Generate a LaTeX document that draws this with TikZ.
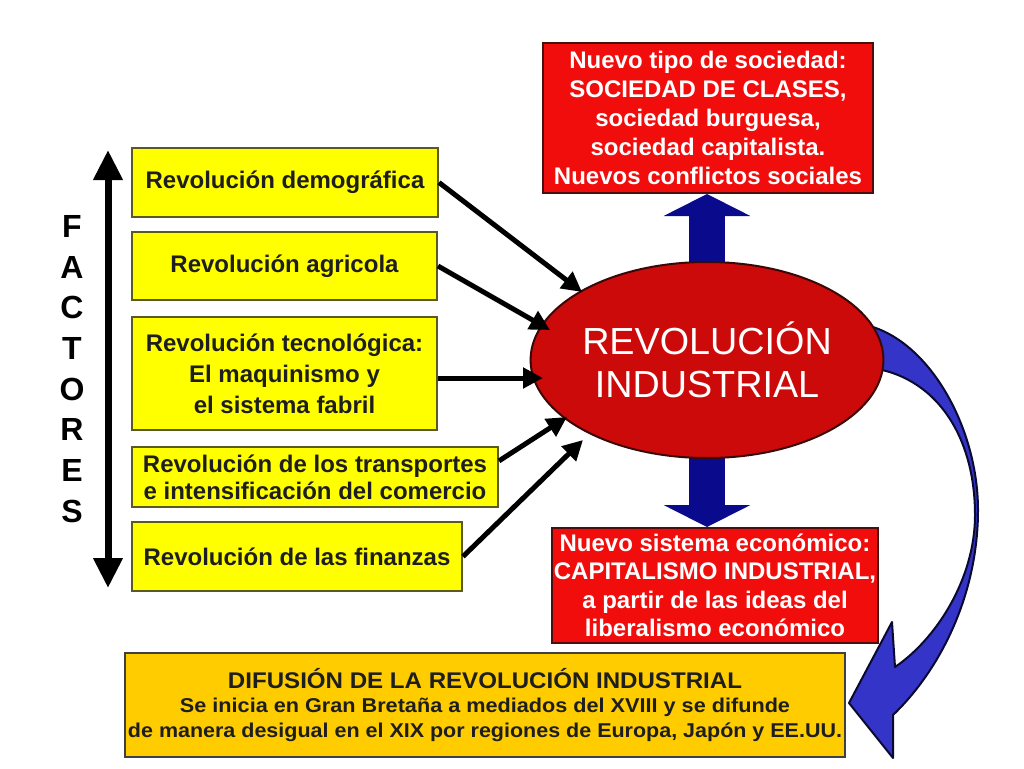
\documentclass[tikz,border=0pt]{standalone}
\usepackage{graphicx}
\usepackage{fontspec}
\setmainfont{Liberation Sans}
\usetikzlibrary{arrows.meta,shapes.geometric}
\newlength\pxu \setlength\pxu{0.75pt}
\definecolor{ylw}{HTML}{FFFF00}
\definecolor{ybord}{HTML}{5A5A20}
\definecolor{rboxc}{HTML}{F20D0D}
\definecolor{rbord}{HTML}{4A1010}
\definecolor{ellc}{HTML}{CC0A0A}
\definecolor{ellbord}{HTML}{3A0808}
\definecolor{orng}{HTML}{FFCC00}
\definecolor{obord}{HTML}{404040}
\definecolor{navyc}{HTML}{0A0A8C}
\definecolor{curvc}{HTML}{3434C8}
\definecolor{curvb}{HTML}{0A0A30}
\definecolor{txtdark}{HTML}{1E1E1E}
\pgfdeclarelayer{bg}
\pgfsetlayers{bg,main}
\begin{document}
\begin{tikzpicture}[x=0.75pt,y=-0.75pt,
  ybox/.style={draw=ybord, fill=ylw, line width=1.5pt, inner sep=0pt, align=center,
    text=txtdark, font=\bfseries\fontsize{18}{23.25}\selectfont},
  rbox/.style={draw=rbord, fill=rboxc, line width=1.5pt, inner sep=0pt, align=center,
    text=white, font=\bfseries\fontsize{18}{21.75}\selectfont},
  obox/.style={draw=obord, fill=orng, line width=1.5pt, inner sep=0pt, align=center,
    text=txtdark, font=\bfseries\fontsize{15}{18.5}\selectfont},
  feeds/.style={line width=3.75pt, -{Triangle[length=15pt,width=15pt]}},
  bigarrow/.style={draw=navyc, line width=27pt, -{Triangle[length=16.5pt,width=64.5pt]}},
  dblarrow/.style={line width=5.25pt, {Triangle[length=22.5pt,width=21pt]}-{Triangle[length=22.5pt,width=21pt]}}
]
\useasboundingbox (0,0) rectangle (1024,768);

% boxes
\node[rbox, minimum width=330\pxu, minimum height=150\pxu] (top) at (708,118)
  {Nuevo tipo de sociedad:\\SOCIEDAD DE CLASES,\\sociedad burguesa,\\sociedad capitalista.\\Nuevos conflictos sociales};
\node[rbox, minimum width=326\pxu, minimum height=115\pxu, font=\bfseries\fontsize{18}{21.4}\selectfont] (bot) at (715,585.5)
  {Nuevo sistema económico:\\CAPITALISMO INDUSTRIAL,\\a partir de las ideas del\\liberalismo económico};

\node[ybox, minimum width=306\pxu, minimum height=69\pxu] (b1) at (285,182.5) {Revolución demográfica};
\node[ybox, minimum width=305\pxu, minimum height=68\pxu] (b2) at (284.5,266) {Revolución agricola};
\node[ybox, minimum width=305\pxu, minimum height=113\pxu] (b3) at (284.5,373.5)
  {Revolución tecnológica:\\El maquinismo y\\el sistema fabril};
\node[ybox, minimum width=366\pxu, minimum height=60\pxu, font=\bfseries\fontsize{18}{20.25}\selectfont] (b4) at (315,477)
  {Revolución de los transportes\\e intensificación del comercio};
\node[ybox, minimum width=330\pxu, minimum height=69\pxu] (b5) at (297,556.5) {Revolución de las finanzas};

\node[ellipse, draw=ellbord, fill=ellc, line width=1.5pt, minimum width=314\pxu, minimum height=196\pxu,
  inner sep=0pt, align=center, text=white, font=\fontsize{28.3}{32.25}\selectfont] (rev) at (707,360)
  {REVOLUCIÓN\\INDUSTRIAL};

\node[obox, minimum width=720\pxu, minimum height=104\pxu] (dif) at (485,705)
  {\resizebox{385.5pt}{\height}{\fontsize{17}{18.5}\selectfont DIFUSIÓN DE LA REVOLUCIÓN INDUSTRIAL}\\
   \resizebox{457.5pt}{\height}{Se inicia en Gran Bretaña a mediados del XVIII y se difunde}\\
   \resizebox{535.5pt}{\height}{de manera desigual en el XIX por regiones de Europa, Japón y EE.UU.}};

\node[inner sep=0pt, align=center, font=\bfseries\fontsize{24}{30.5}\selectfont] (fact) at (72,369)
  {F\\A\\C\\T\\O\\R\\E\\S};

% background connectors
\begin{pgfonlayer}{bg}
  \fill[white] (0,0) rectangle (1024,768);
  \draw[bigarrow] (rev.center) -- (rev.center |- top.south);
  \draw[bigarrow] (rev.center) -- (rev.center |- bot.north);
  \filldraw[fill=curvc, draw=curvb, line width=1.5pt, line join=round]
    (830,323) -- (850,323) .. controls (920,325) and (978,420) .. (978,510)
    .. controls (978,595) and (940,670) .. (893,715)
    -- (893,758) -- (849,703) -- (892,622) -- (895,667)
    .. controls (935,640) and (975,580) .. (975,515)
    .. controls (975,430) and (930,370) .. (860,367) -- (835,368) -- cycle;
\end{pgfonlayer}

% factor arrows
\coordinate (t1) at (582,292);
\coordinate (t2) at (550,330);
\coordinate (t3) at (543,378);
\coordinate (t4) at (567,417);
\coordinate (t5) at (583,440);
\draw[feeds] (b1.east) -- (t1);
\draw[feeds] (b2.east) -- (t2);
\draw[feeds] (b3.east |- t3) -- (t3);
\draw[feeds] (b4.5) -- (t4);
\draw[feeds] (b5.east) -- (t5);

% factores double arrow
\coordinate (fatop) at (108,150);
\coordinate (fabot) at (108,588);
\draw[dblarrow] (fatop) -- (fabot);
\end{tikzpicture}
\end{document}
